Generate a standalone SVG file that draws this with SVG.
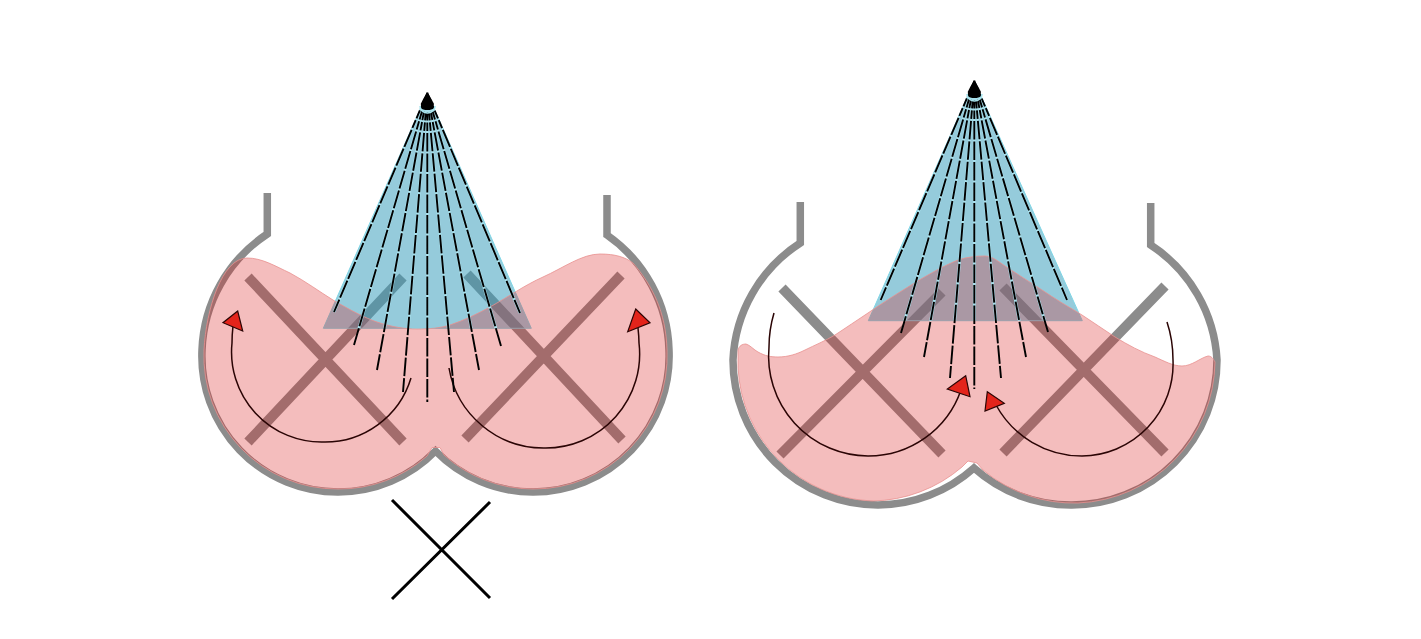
<svg xmlns="http://www.w3.org/2000/svg" width="1421" height="639" viewBox="0 0 1421 639">
<style>
.wall{fill:none;stroke:#8c8c8c;stroke-width:7.5;stroke-linejoin:miter}
.bar{fill:none;stroke:#8c8c8c;stroke-width:10}
.cone{fill:rgb(55,157,187);fill-opacity:.53;stroke:#7fd6e6;stroke-width:1;stroke-linejoin:round}
.liquid{fill:rgb(218,35,35);fill-opacity:.3;stroke:#e8908f;stroke-width:.8}
.halo{fill:none;stroke:#a8e0ec;stroke-width:2.8}
.jet{fill:none;stroke:#000;stroke-width:1.9;stroke-dasharray:17 2 8.5 2 8.5 2 18.5 2 18.5 2 18.5 2 18.5 2 18.5 2 18.5 2 18.5 2 18.5 2 18.5 2 18.5 2 18.5 2 18.5 2 18.5 2 18.5 2}
.flow{fill:none;stroke:#2a0404;stroke-width:1.5}
.head{fill:#e3241b;stroke:#2a0404;stroke-width:1.2;stroke-linejoin:miter}
.tip{fill:#000}
.ring{fill:none;stroke:#a8e4ee;stroke-width:1.6}
.cross{fill:none;stroke:#000;stroke-width:3}
</style>
<defs>
<clipPath id="cone-l"><path d="M427.3,93L323.3,328.3H531.3Z"/></clipPath>
<clipPath id="cone-r"><path d="M974.3,81L868.3,320.7H1082.3Z"/></clipPath>
</defs>
<rect width="1421" height="639" fill="#fff"/>
<g id="vessel-left">
<path class="wall" d="M267.3,193V234A145,145 0 0 0 202,350A136,136 0 0 0 338,492A136,136 0 0 0 435.5,451A136,136 0 0 0 533,492A136,136 0 0 0 669,350A145,145 0 0 0 607,235V195"/>
<path class="bar" d="M248,277L403,442M248,442L403,277M621,275L465,439M467,274L622,440"/>
<path class="cone" d="M427.3,93L323.3,328.3H531.3Z"/>
<path class="liquid" d="M247,258C262,258 275,266 290,273C305,281 320,292 333,300C350,310 365,318 377,322C392,327 405,329 417,329C430,329 440,328 450,325C465,320 477,314 490,307C508,297 525,285 543,277C563,268 582,254 600,254C615,254 625,257 633,263C652,285 666,312 667,350A133,133 0 0 1 533,489A133,133 0 0 1 444,455L440,447.5H432L427,456A133,133 0 0 1 338,489A133,133 0 0 1 204,350C206,310 222,258 247,258Z"/>
<path class="flow" d="M411,378A90,90 0 0 1 323,442A90,90 0 0 1 232,343Q232,335 233,326"/>
<path class="head" d="M237.7,311L223,322.7L242.7,331Z"/>
<path class="flow" d="M449,368A96,96 0 0 0 545,448A94,94 0 0 0 639,343Q639,337 638,328"/>
<path class="head" d="M635.7,309L650,322.7L627.7,331.7Z"/>
<path class="halo" clip-path="url(#cone-l)" d="M427.3,93L334,312M427.3,93L354,345M427.3,93L377,370M427.3,93L403,392M427.3,93V402M427.3,93L454,392M427.3,93L479,370M427.3,93L501,346M427.3,93L520,313"/>
<path class="jet" d="M427.3,93L334,312M427.3,93L354,345M427.3,93L377,370M427.3,93L403,392M427.3,93V402M427.3,93L454,392M427.3,93L479,370M427.3,93L501,346M427.3,93L520,313"/>
<path class="ring" d="M420,106A7.5,7 0 0 0 435,106"/>
<path class="tip" d="M427.3,92Q423,99 420.7,104A6.8,6.5 0 0 0 434,104Q431.6,99 427.3,92Z"/>
</g>
<g id="vessel-right">
<path class="wall" d="M800.3,202V243A147,147 0 0 0 733,360A145,145 0 0 0 878,505A145,145 0 0 0 974,468A145,145 0 0 0 1072,505A145,145 0 0 0 1217,360A147,147 0 0 0 1150.7,245V203"/>
<path class="bar" d="M782,288L942,454M780,455L942,292M1165,286L1003,453M1003,287L1165,453"/>
<path class="cone" d="M974.3,81L868.3,320.7H1082.3Z"/>
<path class="liquid" d="M738,350C739,346 742,344 746,344C750,345 754,350 758,352C765,356 771,357 778,357C788,357 797,354 805,350C815,345 825,341 835,335C846,328 857,320 868,313C881,304 895,295 908,287C924,277 941,267 958,260C967,257 976,256 985,256C993,256 1000,263 1008,268C1019,275 1031,283 1042,290C1055,299 1069,307 1082,315C1093,322 1104,330 1115,337C1128,345 1141,352 1155,357C1164,361 1173,366 1182,366C1192,366 1200,358 1208,356C1211,356 1213,358 1215,362A143,143 0 0 1 1078,503A141,141 0 0 1 983,470L977,463L968,461L962,467A141,141 0 0 1 872,501A140,140 0 0 1 738,367Z"/>
<path class="flow" d="M774,313Q769,330 769,347A100,100 0 0 0 868,456A98,98 0 0 0 961,390"/>
<path class="head" d="M965.7,375.7L947.3,389L970,396.7Z"/>
<path class="flow" d="M1167,322Q1173,340 1173,360A92,92 0 0 1 1082,456A98,98 0 0 1 996,405"/>
<path class="head" d="M987.3,391.7L1004.3,403.3L985,411Z"/>
<path class="halo" clip-path="url(#cone-r)" d="M974.3,81L880.7,300M974.3,81L901,333M974.3,81L924,357M974.3,81L950,378M974.3,81V389M974.3,81L1001,378M974.3,81L1026,357M974.3,81L1048,332M974.3,81L1067,300"/>
<path class="jet" d="M974.3,81L880.7,300M974.3,81L901,333M974.3,81L924,357M974.3,81L950,378M974.3,81V389M974.3,81L1001,378M974.3,81L1026,357M974.3,81L1048,332M974.3,81L1067,300"/>
<path class="ring" d="M967,94A7.5,7 0 0 0 982,94"/>
<path class="tip" d="M974.3,80Q970,87 967.7,92A6.8,6.5 0 0 0 981,92Q978.6,87 974.3,80Z"/>
</g>
<g id="x-mark">
<path class="cross" d="M392,500L490,598M490,502L392,599"/>
</g>
</svg>
